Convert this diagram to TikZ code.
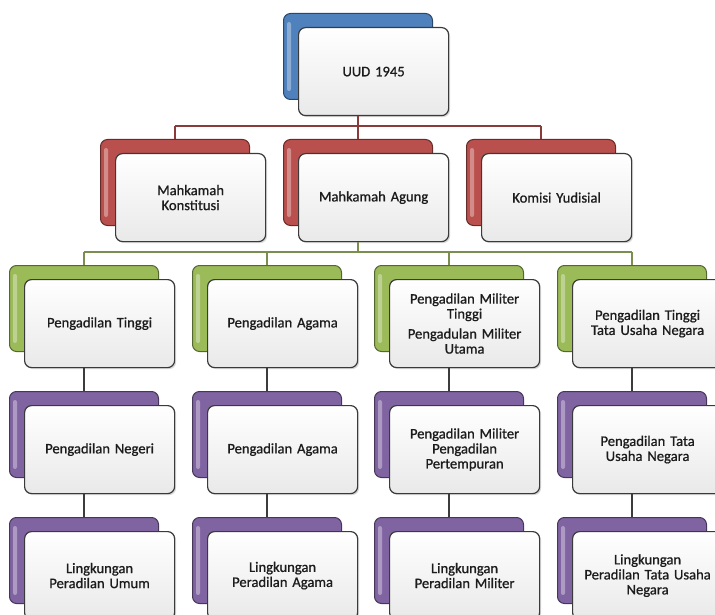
\documentclass[tikz,border=0pt]{standalone}
\usepackage{fontspec}
\setmainfont{Carlito}
\newfontfamily\boxfont{Carlito}[FakeBold=0.9]
\usetikzlibrary{shadows,calc}
\definecolor{cblue}{HTML}{4F81BD}
\definecolor{cred}{HTML}{BA504D}
\definecolor{cgreen}{HTML}{9BBB59}
\definecolor{cpurple}{HTML}{8064A2}
\definecolor{boxline}{HTML}{3A3A3A}
\definecolor{frontbot}{HTML}{E9E9E9}
\definecolor{line1}{HTML}{8A3A38}
\definecolor{line2}{HTML}{7A8F4E}
\definecolor{line3}{HTML}{3C3C3C}
\definecolor{txt}{HTML}{1C1C1C}
\tikzset{
  backbox/.style={draw=#1!55!black, fill=#1, rounded corners=7pt, minimum width=149pt,
    minimum height=86pt, anchor=north west, line width=1pt, inner sep=0pt},
  highlight/.style={fill=white, opacity=0.35, rounded corners=2pt},
  frontbox/.style={draw=boxline, top color=white, bottom color=frontbot, rounded corners=7pt,
    minimum width=150pt, minimum height=88pt, anchor=north west, line width=1.2pt,
    align=center, text width=146pt, inner sep=0pt, text=txt,
    font=\boxfont\fontsize{14.6}{15}\selectfont,
    drop shadow={shadow xshift=1.5pt, shadow yshift=-1.5pt, opacity=0.3}},
  conn1/.style={draw=line1, line width=1.4pt},
  conn2/.style={draw=line2, line width=1.4pt},
  conn3/.style={draw=line3, line width=1.4pt},
}
\newcommand\courtbox[5]{%
  \node[backbox=#4] (b-#1) at (#2,#3) {};
  \fill[highlight] ($(b-#1.north west)+(4,9)$) rectangle ($(b-#1.south west)+(8,-9)$);
  \node[frontbox] (f-#1) at (#2+15,#3+14) {#5};
}
\begin{document}
\begin{tikzpicture}[x=1pt,y=-1pt]
\useasboundingbox (0,0) rectangle (715,615);
\fill[white] (0,0) rectangle (715,615);
\clip (0,0) rectangle (715,615);
% row 1
\courtbox{uud}{283}{13}{cblue}{UUD 1945}
% row 2
\courtbox{mk}{100}{139}{cred}{Mahkamah\\Konstitusi}
\courtbox{ma}{283}{139}{cred}{Mahkamah Agung}
\courtbox{ky}{466}{139}{cred}{Komisi Yudisial}
% row 3
\courtbox{pt}{9}{265}{cgreen}{Pengadilan Tinggi}
\courtbox{pta}{192}{265}{cgreen}{Pengadilan Agama}
\courtbox{ptm}{374}{265}{cgreen}{Pengadilan Militer\\Tinggi\\[5pt]Pengadulan Militer\\Utama}
\courtbox{ptt}{557}{265}{cgreen}{Pengadilan Tinggi\\Tata Usaha Negara}
% row 4
\courtbox{pn}{9}{391}{cpurple}{Pengadilan Negeri}
\courtbox{pa}{192}{391}{cpurple}{Pengadilan Agama}
\courtbox{pm}{374}{391}{cpurple}{Pengadilan Militer\\Pengadilan\\Pertempuran}
\courtbox{ptun}{557}{391}{cpurple}{Pengadilan Tata\\Usaha Negara}
% row 5
\courtbox{lu}{9}{517}{cpurple}{Lingkungan\\Peradilan Umum}
\courtbox{la}{192}{517}{cpurple}{Lingkungan\\Peradilan Agama}
\courtbox{lm}{374}{517}{cpurple}{Lingkungan\\Peradilan Militer}
\courtbox{lt}{557}{517}{cpurple}{Lingkungan\\Peradilan Tata Usaha\\Negara}
% connectors
\coordinate (bus1) at (0,126);
\coordinate (bus2) at (0,252);
\draw[conn1] (f-uud.south -| b-uud.north) -- (b-uud.north |- bus1);
\draw[conn1] (b-mk.north |- bus1) -- (b-ky.north |- bus1);
\foreach \c in {mk,ma,ky} \draw[conn1] (b-\c.north |- bus1) -- (b-\c.north);
\draw[conn2] (f-ma.south -| b-ma.north) -- (b-ma.north |- bus2);
\draw[conn2] (b-pt.north |- bus2) -- (b-ptt.north |- bus2);
\foreach \c in {pt,pta,ptm,ptt} \draw[conn2] (b-\c.north |- bus2) -- (b-\c.north);
\draw[conn3] (f-pt.south -| b-pt.north) -- (b-pn.north);
\draw[conn3] (f-pta.south -| b-pta.north) -- (b-pa.north);
\draw[conn3] (f-ptm.south -| b-ptm.north) -- (b-pm.north);
\draw[conn3] (f-ptt.south -| b-ptt.north) -- (b-ptun.north);
\draw[conn3] (f-pn.south -| b-pn.north) -- (b-lu.north);
\draw[conn3] (f-pa.south -| b-pa.north) -- (b-la.north);
\draw[conn3] (f-pm.south -| b-pm.north) -- (b-lm.north);
\draw[conn3] (f-ptun.south -| b-ptun.north) -- (b-lt.north);
\end{tikzpicture}
\end{document}
